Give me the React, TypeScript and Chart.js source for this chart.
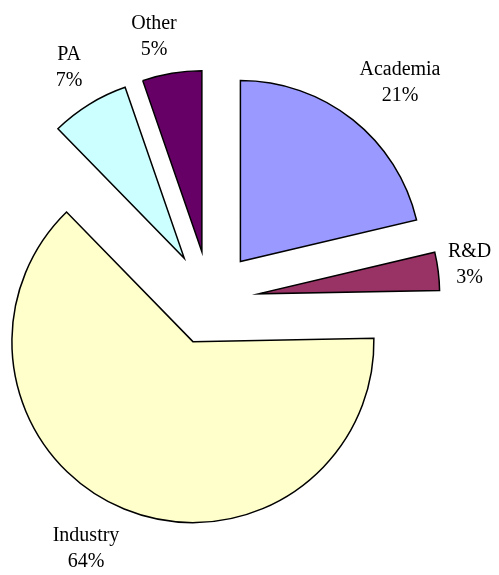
import React, { useEffect, useRef } from "react";
import { Chart, registerables } from "chart.js";

Chart.register(...registerables);

const categories = ["Academia", "R&D", "Industry", "PA", "Other"];
const shares = [21.3, 3.4, 63.0, 7.0, 5.3];
const percentLabels = ["21%", "3%", "64%", "7%", "5%"];

const sliceColors = ["#9999FF", "#993366", "#FFFFCC", "#CCFFFF", "#660066"];
const explode = [49, 49, 45, 49, 49];
const labelDistance = [239.5, 213, 233.3, 222.5, 220.5];
const labelAngleShift = [3.44, -0.74, 4.95, 0.5, -3.0];

const explodePlugin = {
  id: "explodeAndLabels",
  beforeDatasetDraw(chart: any, args: any) {
    const ctx = chart.ctx;
    args.meta.data.forEach((arc: any, i: number) => {
      const mid = (arc.startAngle + arc.endAngle) / 2;
      ctx.save();
      ctx.translate(Math.cos(mid) * explode[i], Math.sin(mid) * explode[i]);
      arc.draw(ctx);
      ctx.restore();
    });
    return false;
  },
  afterDatasetsDraw(chart: any) {
    const ctx = chart.ctx;
    const meta = chart.getDatasetMeta(0);
    ctx.save();
    ctx.fillStyle = "#000";
    ctx.font = '20px "Liberation Serif", "Times New Roman", serif';
    ctx.textAlign = "center";
    ctx.textBaseline = "middle";
    meta.data.forEach((arc: any, i: number) => {
      const mid = (arc.startAngle + arc.endAngle) / 2;
      const ax = arc.x + Math.cos(mid) * explode[i];
      const ay = arc.y + Math.sin(mid) * explode[i];
      const a = mid + (labelAngleShift[i] * Math.PI) / 180;
      const lx = ax + Math.cos(a) * labelDistance[i];
      const ly = ay + Math.sin(a) * labelDistance[i];
      ctx.fillText(categories[i], lx, ly - 13);
      ctx.fillText(percentLabels[i], lx, ly + 13);
    });
    ctx.restore();
  },
};

export default function App() {
  const canvasRef = useRef<HTMLCanvasElement | null>(null);

  useEffect(() => {
    if (!canvasRef.current) return;
    const chart = new Chart(canvasRef.current, {
      type: "pie",
      data: {
        labels: categories,
        datasets: [
          {
            data: shares,
            backgroundColor: sliceColors,
            borderColor: "#000000",
            borderWidth: 1.5,
            borderJoinStyle: "miter",
          } as any,
        ],
      },
      options: {
        responsive: false,
        animation: false,
        events: [],
        radius: 181,
        layout: { padding: { left: 0, right: 79, top: 25, bottom: 0 } },
        plugins: {
          legend: { display: false },
          tooltip: { enabled: false },
        },
      } as any,
      plugins: [explodePlugin as any],
    });
    return () => chart.destroy();
  }, []);

  return (
    <div style={{ position: "fixed", left: 0, top: 0, width: 499, height: 575, background: "#fff" }}>
      <canvas ref={canvasRef} width={499} height={575} />
    </div>
  );
}
